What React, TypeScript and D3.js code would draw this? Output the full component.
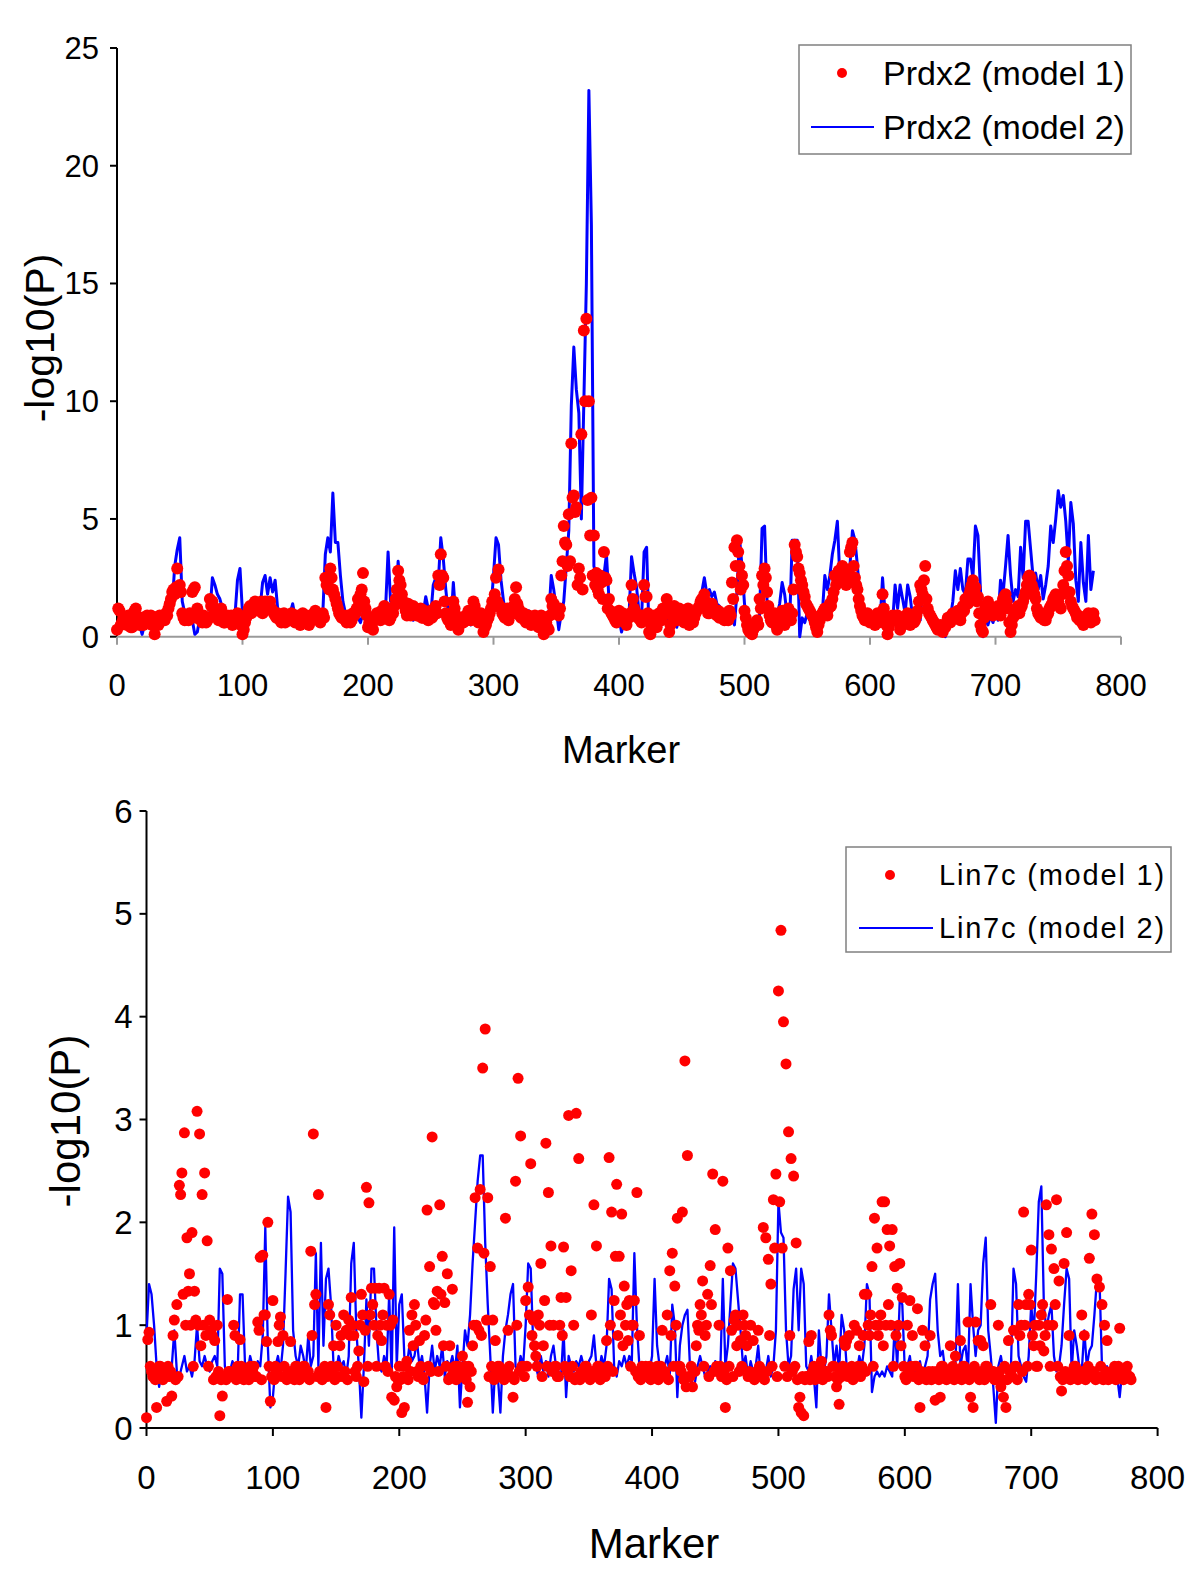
import React from "react";
import * as d3 from "d3";

// Marker positions
const markers: number[] = d3.range(0, 780, 2);
const markersOdd: number[] = d3.range(1, 780, 2);
const xTickValues = [0, 100, 200, 300, 400, 500, 600, 700, 800];
const topYTicks = [0, 5, 10, 15, 20, 25];
const bottomYTicks = [0, 1, 2, 3, 4, 5, 6];

// Prdx2 model 2 (blue line), even markers
const prdx2Model2 = [
  0.3,0.7,0.9,0.5,0.6,0.8,0.4,0.6,0.7,0.5,
  0.1,0.5,0.7,0.9,0.6,0.8,1.0,0.7,0.9,1.1,
  0.8,1.0,1.4,3.0,3.7,4.2,1.5,1.0,0.9,0.8,
  0.7,0.1,0.2,0.8,0.6,0.9,0.7,1.0,2.5,2.2,
  1.8,1.6,1.2,0.8,0.7,1.0,0.6,0.9,2.4,2.9,
  1.0,0.3,0.8,1.1,0.9,1.3,1.0,1.2,2.3,2.6,
  1.8,2.5,1.9,2.4,1.2,0.9,0.8,1.1,0.7,1.0,
  1.4,0.8,0.6,0.9,0.5,0.8,0.7,1.0,0.6,0.9,
  0.7,0.8,1.0,3.5,4.2,3.6,6.1,4.0,4.0,2.6,
  1.5,1.0,0.8,0.9,0.7,1.0,0.8,0.6,1.0,1.3,
  0.5,0.3,0.8,1.0,1.2,0.9,1.1,1.2,3.6,1.5,
  1.3,1.0,3.2,2.0,1.5,0.9,0.8,1.0,0.7,0.9,
  0.8,1.1,1.0,1.7,1.2,0.9,2.2,2.5,2.3,4.2,
  3.3,2.0,1.0,0.5,2.3,0.8,0.4,0.9,0.7,1.0,
  0.8,0.5,1.1,0.7,0.9,0.4,1.0,0.8,0.6,1.2,
  2.6,4.2,3.9,2.4,1.5,1.0,0.7,0.9,1.2,0.8,
  1.0,0.6,0.9,0.7,1.1,0.8,0.5,0.9,0.6,0.4,
  0.1,0.3,0.8,2.6,2.0,1.2,0.3,1.0,1.5,3.0,
  4.5,9.8,12.3,10.5,9.5,5.0,10.0,15.0,23.2,17.5,
  3.0,2.6,2.6,2.6,2.6,3.5,1.6,1.2,0.9,0.7,
  0.8,0.2,0.6,1.0,0.9,3.4,2.7,2.1,1.0,0.8,
  3.6,3.8,0.0,0.6,0.9,1.1,0.7,0.5,0.8,1.0,
  0.6,0.9,0.7,0.4,0.8,1.0,0.6,0.9,0.7,0.5,
  0.8,1.2,1.6,1.9,2.5,1.8,2.0,1.7,1.9,1.4,
  1.3,1.0,0.7,0.9,0.6,0.8,0.5,1.9,4.2,3.0,
  1.4,0.6,0.3,0.0,0.2,0.7,0.9,4.6,4.7,1.5,
  0.8,0.5,0.3,0.9,1.4,2.3,1.8,0.9,0.6,4.1,
  4.1,4.1,0.0,0.8,0.6,1.0,0.7,0.5,0.9,0.8,
  0.6,1.0,2.6,2.0,2.6,3.5,4.1,4.9,2.5,3.0,
  2.8,2.2,3.0,4.5,4.1,3.0,1.6,1.0,0.8,0.9,
  0.7,0.5,1.0,0.8,0.6,2.5,1.0,0.7,0.9,0.6,
  2.2,1.2,2.2,1.6,1.0,2.2,1.7,0.8,0.6,0.9,
  0.7,2.2,1.5,0.9,0.6,0.8,0.5,0.7,0.4,0.6,
  0.0,0.5,0.8,1.5,2.8,2.0,2.9,2.0,1.8,3.3,
  3.3,2.5,4.7,4.3,2.0,0.0,0.8,0.5,0.9,0.6,
  1.0,0.7,2.4,1.8,3.0,4.3,2.6,1.5,2.0,1.7,
  3.8,2.5,4.9,4.9,3.7,2.5,2.7,2.0,2.6,1.6,
  2.2,3.0,4.7,4.0,5.0,6.2,5.5,6.0,4.9,3.2,
  5.7,4.8,2.4,1.5,4.0,2.3,1.5,4.3,2.0,2.8,
];

// Prdx2 model 1 (red dots), even markers
const prdx2Model1 = [
  0.3,1.1,0.6,0.8,0.5,0.9,0.4,1.1,0.7,0.5,
  0.8,0.6,0.9,0.7,0.5,0.1,0.6,0.9,0.8,0.7,
  0.9,1.4,1.9,1.8,2.9,2.2,1.0,0.7,0.8,1.0,
  1.9,2.1,1.2,0.9,0.6,0.8,0.7,1.6,1.5,1.2,
  0.9,1.0,0.8,0.6,0.9,0.7,0.5,0.8,1.0,0.8,
  0.1,0.6,1.0,1.3,1.1,1.5,1.2,1.4,1.0,1.5,
  1.3,1.5,1.1,0.9,1.0,0.7,0.8,0.6,0.9,0.7,
  0.9,0.6,0.8,0.5,1.0,0.7,0.6,0.9,0.8,1.1,
  0.8,0.6,1.0,2.5,2.2,2.9,2.0,1.6,1.2,0.9,
  0.8,0.7,0.9,0.6,1.0,1.0,1.6,1.8,2.7,1.2,
  0.4,0.6,0.3,0.8,1.0,0.7,0.9,1.2,1.0,0.8,
  1.0,1.6,2.8,2.2,1.5,1.1,1.4,0.9,1.3,1.1,
  0.9,1.2,0.8,1.0,0.7,1.1,0.9,1.3,2.6,3.5,
  2.5,1.0,0.7,0.5,1.5,0.9,0.3,0.8,0.6,0.9,
  1.1,0.7,1.5,0.9,0.6,1.0,0.2,0.5,0.8,1.2,
  1.5,2.5,2.85,1.2,0.9,1.0,0.7,1.1,1.3,2.1,
  1.2,0.8,1.0,0.6,0.9,0.5,0.8,0.7,0.4,0.9,
  0.1,0.6,0.3,1.6,1.4,1.2,0.9,2.6,4.7,3.9,
  5.2,8.2,6.0,5.5,2.9,8.6,13.0,13.5,10.0,5.9,
  4.3,2.7,1.8,2.3,3.6,2.4,1.6,1.0,0.8,0.6,
  1.1,0.7,0.9,0.5,0.8,2.2,1.2,1.0,0.8,0.6,
  2.2,1.7,0.2,0.5,0.9,0.4,1.0,0.7,1.1,1.6,
  0.2,0.9,1.3,0.7,1.2,0.8,0.6,1.0,0.5,0.9,
  0.8,1.1,1.3,1.6,1.8,1.2,1.0,1.4,1.1,0.9,
  0.8,1.0,0.7,0.9,1.1,2.3,3.8,4.1,3.0,2.6,
  1.1,0.5,0.2,0.1,0.4,0.7,1.6,2.6,2.9,1.9,
  0.9,0.6,1.0,0.3,0.7,1.1,0.5,0.8,0.9,1.0,
  3.9,3.4,2.7,2.2,1.7,1.3,1.1,0.9,0.6,0.2,
  0.7,1.0,1.2,0.9,1.4,1.6,2.6,2.4,2.6,3.0,
  2.6,2.4,3.6,4.0,2.5,2.0,1.3,0.9,0.7,1.0,
  0.6,0.8,0.5,1.0,0.7,1.8,0.8,0.1,0.6,0.9,
  0.7,0.9,0.3,0.6,0.8,1.0,0.5,0.9,0.7,1.1,
  2.2,1.8,3.0,1.2,0.9,0.7,0.5,0.3,0.5,0.2,
  0.4,0.8,0.6,1.0,0.9,1.1,0.7,1.3,1.6,1.4,
  2.0,2.4,2.1,1.7,0.5,0.2,1.3,1.5,1.2,0.9,
  1.1,1.3,0.9,1.6,1.8,1.2,0.2,0.8,1.0,1.3,
  1.2,1.5,1.9,2.5,2.5,2.0,1.6,1.0,0.8,0.9,
  0.7,1.0,1.3,1.6,1.8,1.5,1.2,2.2,3.6,2.6,
  1.5,1.2,1.0,0.9,0.7,0.5,0.8,1.0,0.6,1.0,
];

// Prdx2 model 1 (red dots), odd markers
const prdx2Model1Odd = [
  1.2,0.5,0.8,0.6,0.9,0.4,0.7,1.2,0.6,0.8,
  0.5,0.8,0.6,0.9,0.7,0.8,0.5,0.7,0.9,1.0,
  1.2,1.6,2.0,2.1,2.0,1.9,0.8,0.9,0.7,0.9,
  2.0,0.8,1.0,0.7,0.9,0.6,0.8,1.3,1.2,1.0,
  0.7,1.2,0.6,0.8,0.7,0.9,0.6,0.9,0.7,0.5,
  0.3,0.8,1.2,1.0,1.4,1.3,1.1,1.5,1.2,1.3,
  1.4,1.2,1.0,0.8,0.9,0.6,1.0,0.8,0.7,1.0,
  0.7,0.9,0.6,0.8,0.7,0.9,0.5,0.7,1.0,0.9,
  0.7,0.9,0.8,2.2,2.0,2.5,1.8,1.4,1.0,0.8,
  0.9,0.6,0.8,0.7,0.9,1.2,1.4,2.0,1.5,0.9,
  0.6,0.5,0.7,1.0,0.8,1.1,1.3,0.9,0.7,1.0,
  1.3,2.0,2.4,1.8,1.3,0.9,1.2,1.0,1.1,0.9,
  1.0,0.8,1.1,0.9,1.0,0.8,1.2,1.0,2.2,2.6,
  1.5,0.8,0.9,0.6,1.2,0.7,0.5,0.6,0.8,0.7,
  0.9,1.0,1.3,0.8,0.7,0.8,0.4,0.7,1.0,1.5,
  1.8,1.5,1.3,1.0,0.8,1.2,0.9,1.0,1.6,1.4,
  0.9,1.0,0.7,0.8,0.6,0.7,0.9,0.5,0.6,0.7,
  0.3,0.4,0.9,1.3,1.1,1.0,1.2,3.2,4.0,3.0,
  3.2,5.9,5.3,2.2,2.5,2.0,10.0,5.8,4.3,2.6,
  2.2,2.0,2.6,1.6,2.5,1.2,1.1,0.9,0.7,0.9,
  0.8,1.0,0.6,0.9,1.0,1.6,1.0,0.8,0.7,0.9,
  1.7,1.0,0.1,0.7,0.6,0.8,0.9,1.2,1.0,1.2,
  0.5,1.1,1.0,0.9,1.0,0.7,0.8,1.2,0.8,0.6,
  1.0,1.2,1.5,1.4,1.5,1.0,1.3,1.2,1.0,1.1,
  0.9,0.8,1.0,0.7,0.9,1.6,3.0,3.6,2.0,2.2,
  0.8,0.3,0.5,0.3,0.6,0.5,1.2,2.2,2.5,1.3,
  0.7,0.9,0.5,0.6,0.9,0.8,1.0,1.2,0.7,2.0,
  3.6,2.9,2.4,1.9,1.4,1.2,1.0,0.8,0.4,0.5,
  0.9,1.1,1.0,1.2,1.3,1.9,2.2,2.8,2.4,2.7,
  2.2,2.8,3.8,3.0,2.2,1.6,1.1,0.8,0.9,0.7,
  0.8,0.6,0.9,0.6,1.0,1.2,0.5,0.4,0.8,0.7,
  0.9,0.6,0.5,0.8,0.6,0.9,0.7,0.6,0.9,1.5,
  2.0,2.4,1.6,1.0,0.8,0.6,0.4,0.4,0.3,0.4,
  0.6,0.7,0.9,0.8,1.0,0.9,1.0,1.1,1.4,1.8,
  2.2,1.9,1.5,1.0,0.3,0.8,1.0,1.3,1.0,1.1,
  1.2,1.0,1.2,1.7,1.5,0.6,0.5,0.9,1.2,1.0,
  1.3,1.7,2.2,2.6,2.2,1.8,1.2,0.9,1.0,0.7,
  0.9,1.2,1.4,1.7,1.6,1.3,1.8,2.8,3.0,1.9,
  1.3,1.1,0.8,0.7,0.6,0.7,0.9,0.8,0.9,0.7,
];

// Lin7c model 2 (blue line), even markers
const lin7cModel2 = [
  0.9,1.4,1.3,1.0,0.6,0.4,0.55,0.5,0.6,0.5,
  0.6,0.95,0.55,0.5,0.6,0.7,0.55,0.6,0.5,0.65,
  1.0,0.65,0.6,0.7,0.6,0.55,0.65,0.7,0.6,1.55,
  1.5,0.6,0.5,0.55,0.65,0.6,0.5,1.3,1.3,0.6,
  0.55,0.7,0.6,0.5,0.65,0.6,0.9,1.95,0.8,0.2,
  0.3,0.6,0.7,0.55,0.8,1.5,2.25,2.1,0.95,0.7,
  0.6,0.8,0.7,0.55,0.9,0.6,0.7,1.7,0.6,1.8,
  0.8,1.45,1.55,1.2,0.6,0.55,0.7,0.6,0.65,0.5,
  0.7,1.6,1.8,0.95,0.6,0.1,0.6,1.25,0.8,1.55,
  1.55,0.95,0.6,0.55,0.7,0.6,1.3,0.5,1.95,0.6,
  1.2,1.3,0.7,0.6,0.8,0.65,0.7,0.85,0.6,0.7,
  0.5,0.15,0.6,0.8,0.55,0.7,0.6,0.8,0.5,0.65,
  0.6,0.7,0.55,0.8,0.2,0.6,0.95,0.8,1.1,1.6,
  2.0,2.4,2.65,2.65,1.8,1.2,0.7,0.15,0.6,0.5,
  0.15,0.7,0.95,1.1,1.3,1.4,0.6,0.55,0.7,0.6,
  1.0,1.6,1.55,0.8,0.6,0.5,0.7,0.55,0.65,0.5,
  0.7,0.8,0.6,0.55,0.5,0.95,0.3,0.7,0.6,0.55,
  0.65,0.6,0.7,0.6,0.55,0.65,0.7,0.9,0.6,0.55,
  0.7,0.6,0.8,1.45,1.35,0.6,0.5,0.65,0.6,0.7,
  0.6,0.7,0.65,1.7,1.0,0.6,0.5,0.6,0.45,0.55,
  0.7,1.45,0.8,0.6,0.55,0.6,0.7,0.5,1.2,1.0,
  0.3,0.8,1.0,1.1,1.15,0.6,0.4,0.45,0.6,0.7,
  0.6,0.5,0.55,0.6,0.5,0.65,0.6,0.55,1.45,0.6,
  0.8,1.2,1.6,1.55,1.25,0.95,0.6,0.7,0.5,0.65,
  0.55,0.6,0.8,0.5,0.6,0.55,0.7,0.5,0.6,0.95,
  2.2,1.9,1.85,0.95,0.6,0.7,1.35,1.55,0.95,1.55,
  1.4,0.6,0.55,0.7,0.5,0.2,0.95,0.6,0.55,0.7,
  1.3,0.95,0.6,0.8,0.55,1.1,0.95,0.6,0.5,0.6,
  0.6,0.55,0.7,0.6,0.8,1.4,1.3,0.35,0.5,0.55,
  0.5,0.55,0.5,0.6,0.55,0.5,1.0,0.6,1.25,1.2,
  0.55,0.6,0.7,0.5,0.55,0.6,0.65,0.5,0.6,0.7,
  1.25,1.4,1.5,0.95,0.7,0.75,0.55,0.6,0.5,0.55,
  0.6,1.4,0.6,0.75,0.8,0.55,1.4,1.0,0.7,0.95,
  1.0,1.6,1.85,0.95,0.7,0.4,0.05,0.6,0.7,0.55,
  0.6,0.5,0.6,1.55,1.4,0.7,0.6,0.5,0.45,0.7,
  1.2,0.9,1.5,2.2,2.35,1.2,0.95,1.1,1.2,0.7,
  0.55,0.6,0.8,1.2,1.55,1.45,0.55,0.95,0.8,0.6,
  0.55,0.95,0.6,0.75,0.8,1.1,1.45,1.45,0.6,0.55,
  0.6,0.5,0.55,0.6,0.5,0.3,0.55,0.6,0.55,0.55,
];

// Lin7c model 1 (red dots), even markers
const lin7cModel1 = [
  0.1,0.93,0.55,0.5,0.2,0.6,0.5,0.55,0.26,0.5,
  0.31,1.05,1.2,2.36,2.48,2.87,1.85,1.5,1.9,1.33,
  3.08,2.86,2.27,2.48,1.82,1.05,0.9,0.85,1.0,0.12,
  0.31,0.5,1.25,0.55,0.5,0.9,0.6,0.86,0.5,0.55,
  0.5,0.6,0.55,0.5,1.03,1.66,1.68,1.1,2.0,0.26,
  1.24,0.6,0.84,1.08,0.9,0.5,0.55,0.84,0.5,0.6,
  0.5,0.55,0.6,0.5,0.55,1.72,2.86,1.3,2.27,0.5,
  0.55,0.2,1.2,0.6,0.8,1.0,0.5,0.9,1.1,0.95,
  1.05,1.27,0.9,0.5,0.75,1.3,0.45,2.34,2.19,1.36,
  1.0,0.6,1.36,0.85,1.36,1.0,1.3,0.3,0.27,0.4,
  0.6,0.15,0.2,0.65,0.95,1.1,1.2,0.55,0.85,0.5,
  0.9,2.12,1.57,2.83,1.2,1.33,2.17,1.67,1.22,1.5,
  0.8,1.35,0.6,0.5,0.55,0.7,0.6,0.25,0.4,0.8,
  2.24,1.75,2.32,3.5,3.88,2.24,1.57,1.05,0.85,0.6,
  0.55,0.5,2.04,0.95,0.5,0.3,2.4,3.4,2.84,0.6,
  1.24,1.37,2.57,1.05,0.7,1.1,1.6,0.8,2.77,2.29,
  1.77,1.0,0.6,0.5,1.27,1.76,1.27,3.04,1.53,1.0,
  3.06,2.62,0.55,0.5,0.6,0.55,1.1,2.17,1.77,0.6,
  0.5,0.55,0.85,2.63,2.1,1.24,2.37,1.67,2.08,1.38,
  1.2,1.24,1.0,1.24,2.29,0.9,0.6,0.55,0.5,0.6,
  0.5,0.55,0.6,0.5,0.95,0.55,1.1,1.53,1.7,1.38,
  2.04,0.6,2.1,3.57,2.65,0.5,0.4,0.55,1.0,1.2,
  1.43,0.9,1.3,1.58,2.47,1.93,0.55,0.6,2.4,0.2,
  1.75,1.53,0.5,1.1,1.0,0.85,1.1,0.9,0.5,1.0,
  0.85,0.5,0.95,0.5,1.95,1.85,1.64,1.4,2.22,2.47,
  4.25,4.84,3.95,3.54,2.88,2.62,2.45,1.8,0.2,0.15,
  0.12,0.5,0.84,0.9,0.6,0.5,0.55,0.65,0.5,0.55,
  1.1,0.9,0.6,0.4,0.23,0.5,0.85,0.85,0.9,0.6,
  1.0,0.95,0.8,0.6,1.3,1.3,0.9,1.57,2.04,1.75,
  1.0,2.2,2.2,1.93,1.77,1.93,1.57,1.36,1.6,1.27,
  0.5,1.0,1.24,0.9,0.6,1.16,0.2,0.95,0.8,0.5,
  0.9,0.55,0.27,0.5,0.3,0.6,0.55,0.5,0.8,0.6,
  0.7,0.5,0.85,0.6,0.55,1.03,0.3,0.2,1.03,0.85,
  0.85,0.8,0.6,0.5,1.2,0.55,0.5,1.0,0.4,0.3,
  0.2,0.85,0.55,0.95,0.6,1.2,1.0,2.1,1.2,1.3,
  1.73,0.8,0.6,1.0,1.1,0.75,2.17,1.88,1.74,1.55,
  2.22,1.43,0.36,1.6,1.9,0.9,0.5,0.6,0.5,0.55,
  1.1,0.9,0.5,1.65,2.08,1.88,1.45,1.37,1.2,1.0,
  0.85,0.5,0.55,0.6,0.5,0.97,0.55,0.5,0.6,0.5,
];

// Lin7c model 1 (red dots), odd markers
const lin7cModel1Odd = [
  0.86,0.6,0.5,0.47,0.55,0.6,0.47,0.5,0.6,0.55,
  0.9,0.47,0.5,2.27,1.3,1.0,1.33,1.0,0.6,1.05,
  1.0,0.8,1.0,0.9,0.6,0.95,0.47,0.5,0.55,0.47,
  0.5,0.47,0.55,0.5,1.0,0.47,0.55,0.6,0.47,0.5,
  0.47,0.55,0.6,0.5,0.95,0.47,1.1,0.84,0.6,0.5,
  0.47,0.55,1.0,0.5,0.6,0.47,0.5,0.55,0.47,0.6,
  0.47,0.5,0.6,0.55,0.47,0.9,1.2,0.5,0.55,0.47,
  0.6,0.5,1.1,0.55,0.47,0.6,0.8,0.5,0.55,0.47,
  0.9,1.0,0.55,0.6,1.0,1.1,0.95,0.6,1.1,1.2,
  1.36,0.9,1.0,1.1,0.6,0.55,1.0,1.05,0.5,0.47,
  0.47,0.5,0.6,0.47,0.55,0.8,1.0,0.5,0.6,0.47,
  1.05,0.6,0.55,1.22,0.95,0.55,1.3,0.8,0.6,0.47,
  0.5,0.55,0.47,0.6,0.5,0.55,0.47,0.6,0.55,1.0,
  1.0,0.95,0.9,1.7,1.05,0.5,0.6,0.47,0.55,0.6,
  0.5,0.47,0.55,0.6,0.5,0.47,1.0,0.55,0.6,0.5,
  0.6,1.1,0.9,0.8,0.6,1.0,0.5,1.24,0.6,1.0,
  0.55,0.6,0.5,1.0,0.9,0.6,0.55,0.5,0.6,0.47,
  0.5,0.47,0.55,0.6,0.5,0.47,0.55,0.5,0.6,0.47,
  0.55,0.5,0.6,1.0,0.55,1.67,0.9,1.1,0.8,1.0,
  0.85,0.6,1.0,0.55,0.5,0.47,0.55,0.6,0.5,0.47,
  0.55,0.5,0.47,0.6,0.55,0.5,0.47,0.9,0.6,1.0,
  0.6,0.55,0.47,0.4,0.5,0.6,0.55,0.8,0.95,1.1,
  0.6,1.0,0.5,1.2,0.55,0.6,1.0,0.5,0.55,0.47,
  0.6,0.95,1.05,0.8,0.55,0.6,1.0,0.8,0.55,0.5,
  0.47,0.55,0.6,0.5,0.47,0.55,0.9,0.6,1.75,0.5,
  2.2,1.75,0.6,0.5,0.9,0.55,0.6,0.47,0.3,0.5,
  0.47,0.5,0.47,0.55,0.47,0.5,0.6,0.47,0.55,0.5,
  0.95,0.6,0.5,0.47,0.55,0.6,0.8,0.5,0.55,0.47,
  0.55,0.6,0.5,0.9,0.55,1.0,1.1,0.6,1.0,0.9,
  1.1,0.8,1.0,1.2,1.0,0.6,0.9,1.0,0.8,0.6,
  0.47,0.55,0.6,0.5,0.6,0.47,0.55,0.5,0.47,0.55,
  0.47,0.5,0.55,0.47,0.6,0.5,0.47,0.55,0.5,0.47,
  0.55,0.5,0.47,0.6,0.5,0.47,0.55,0.6,0.5,0.47,
  0.55,0.47,0.6,0.5,0.55,0.47,0.5,0.55,0.47,0.6,
  0.47,0.55,0.5,0.6,0.47,0.9,0.55,1.0,0.6,1.2,
  0.9,1.0,0.6,0.8,1.2,0.9,1.0,0.6,1.0,1.2,
  0.6,0.5,0.47,0.55,0.5,0.47,0.55,0.6,0.47,0.5,
  0.55,0.47,0.6,0.5,0.55,0.47,0.5,0.6,0.47,0.55,
  0.47,0.5,0.55,0.47,0.6,0.5,0.47,0.55,0.5,0.47,
];

const FONT = "'Liberation Sans', Arial, Helvetica, sans-serif";

type LegendSpec = {
  x: number; y: number; w: number; h: number;
  dotX: number; dotY: number; lineX1: number; lineX2: number; lineY: number;
  textX: number; fontSize: number; spacing: number;
};

type PanelProps = {
  xRange: [number, number];
  yRange: [number, number];
  yMax: number;
  yTicks: number[];
  lineData: number[];
  dotData: number[];
  dotDataOdd: number[];
  xAxisColor: string;
  tickFont: number;
  xTitleFont: number;
  yTitleFont: number;
  yLabelGap: number;
  xLabelY: number;
  xTitle: { x: number; y: number };
  yTitle: { x: number; y: number };
  legend: LegendSpec;
  name: string;
  lineWidth: number;
  dotR: number;
};

function Panel(p: PanelProps) {
  const x = d3.scaleLinear().domain([0, 800]).range(p.xRange);
  const y = d3.scaleLinear().domain([0, p.yMax]).range(p.yRange);
  const n = Math.min(markers.length, p.lineData.length);
  const pts: [number, number][] = [];
  for (let i = 0; i < n; i++) pts.push([markers[i], p.lineData[i]]);
  const line = d3.line<[number, number]>().x(d => x(d[0])).y(d => y(d[1]));
  const dots: [number, number][] = [];
  for (let i = 0; i < Math.min(markers.length, p.dotData.length); i++) dots.push([markers[i], p.dotData[i]]);
  for (let i = 0; i < Math.min(markersOdd.length, p.dotDataOdd.length); i++) dots.push([markersOdd[i], p.dotDataOdd[i]]);
  const y0 = y(0);
  const x0 = x(0);
  const L = p.legend;
  return (
    <g>
      {/* y axis */}
      <line x1={x0} x2={x0} y1={y(p.yMax)} y2={y0} stroke="#000" strokeWidth={2} />
      {p.yTicks.map(t => (
        <g key={"yt" + t}>
          <line x1={x0 - 7} x2={x0} y1={y(t)} y2={y(t)} stroke="#000" strokeWidth={2} />
          <text x={x0 - p.yLabelGap} y={y(t)} dy="0.35em" textAnchor="end" fontSize={p.tickFont} fontFamily={FONT} fill="#000">{t}</text>
        </g>
      ))}
      {/* x axis */}
      <line x1={x0} x2={x(800)} y1={y0} y2={y0} stroke={p.xAxisColor} strokeWidth={2} />
      {xTickValues.map(t => (
        <g key={"xt" + t}>
          <line x1={x(t)} x2={x(t)} y1={y0} y2={y0 + 8} stroke={p.xAxisColor} strokeWidth={2} />
          <text x={x(t)} y={p.xLabelY} dy="0.35em" textAnchor="middle" fontSize={p.tickFont} fontFamily={FONT} fill="#000">{t}</text>
        </g>
      ))}
      {/* data */}
      <path d={line(pts) || ""} fill="none" stroke="#0000ff" strokeWidth={p.lineWidth} strokeLinejoin="round" />
      {dots.map((d, i) => (
        <circle key={"d" + i} cx={x(d[0])} cy={y(d[1])} r={p.dotR} fill="#ff0000" />
      ))}
      {/* titles */}
      <text x={p.xTitle.x} y={p.xTitle.y} dy="0.35em" textAnchor="middle" fontSize={p.xTitleFont} fontFamily={FONT} fill="#000">Marker</text>
      <text transform={`translate(${p.yTitle.x},${p.yTitle.y}) rotate(-90)`} dy="0.35em" textAnchor="middle" fontSize={p.yTitleFont} fontFamily={FONT} fill="#000">-log10(P)</text>
      {/* legend */}
      <rect x={L.x} y={L.y} width={L.w} height={L.h} fill="#fff" stroke="#808080" strokeWidth={1.5} />
      <circle cx={L.dotX} cy={L.dotY} r={5} fill="#ff0000" />
      <text x={L.textX} y={L.dotY} dy="0.35em" fontSize={L.fontSize} letterSpacing={L.spacing} fontFamily={FONT} fill="#000">{p.name} (model 1)</text>
      <line x1={L.lineX1} x2={L.lineX2} y1={L.lineY} y2={L.lineY} stroke="#0000ff" strokeWidth={2} />
      <text x={L.textX} y={L.lineY} dy="0.35em" fontSize={L.fontSize} letterSpacing={L.spacing} fontFamily={FONT} fill="#000">{p.name} (model 2)</text>
    </g>
  );
}

export default function App() {
  return (
    <div style={{ position: "absolute", left: 0, top: 0 }}>
      <svg width={1200} height={1576} viewBox="0 0 1200 1576" style={{ display: "block", background: "#fff" }}>
        <rect x={0} y={0} width={1200} height={1576} fill="#fff" />
        <Panel
          xRange={[117, 1121]}
          yRange={[636.7, 48]}
          yMax={25}
          yTicks={topYTicks}
          lineData={prdx2Model2}
          dotData={prdx2Model1}
          dotDataOdd={prdx2Model1Odd}
          xAxisColor="#9a9a9a"
          tickFont={31}
          xTitleFont={38}
          yTitleFont={41}
          yLabelGap={18}
          xLabelY={685}
          xTitle={{ x: 621, y: 750 }}
          yTitle={{ x: 40, y: 338 }}
          legend={{ x: 799, y: 45, w: 332, h: 109, dotX: 842, dotY: 73, lineX1: 811, lineX2: 874, lineY: 127, textX: 883, fontSize: 34, spacing: 0 }}
          name="Prdx2"
          lineWidth={3}
          dotR={6}
        />
        <Panel
          xRange={[146.5, 1157.6]}
          yRange={[1428, 811]}
          yMax={6}
          yTicks={bottomYTicks}
          lineData={lin7cModel2}
          dotData={lin7cModel1}
          dotDataOdd={lin7cModel1Odd}
          xAxisColor="#000"
          tickFont={33}
          xTitleFont={42}
          yTitleFont={42}
          yLabelGap={14}
          xLabelY={1477}
          xTitle={{ x: 654, y: 1543 }}
          yTitle={{ x: 65, y: 1121 }}
          legend={{ x: 846, y: 847, w: 325, h: 105, dotX: 890, dotY: 875, lineX1: 859, lineX2: 933, lineY: 928, textX: 939, fontSize: 29, spacing: 1.8 }}
          name="Lin7c"
          lineWidth={2.3}
          dotR={5.5}
        />
      </svg>
    </div>
  );
}
